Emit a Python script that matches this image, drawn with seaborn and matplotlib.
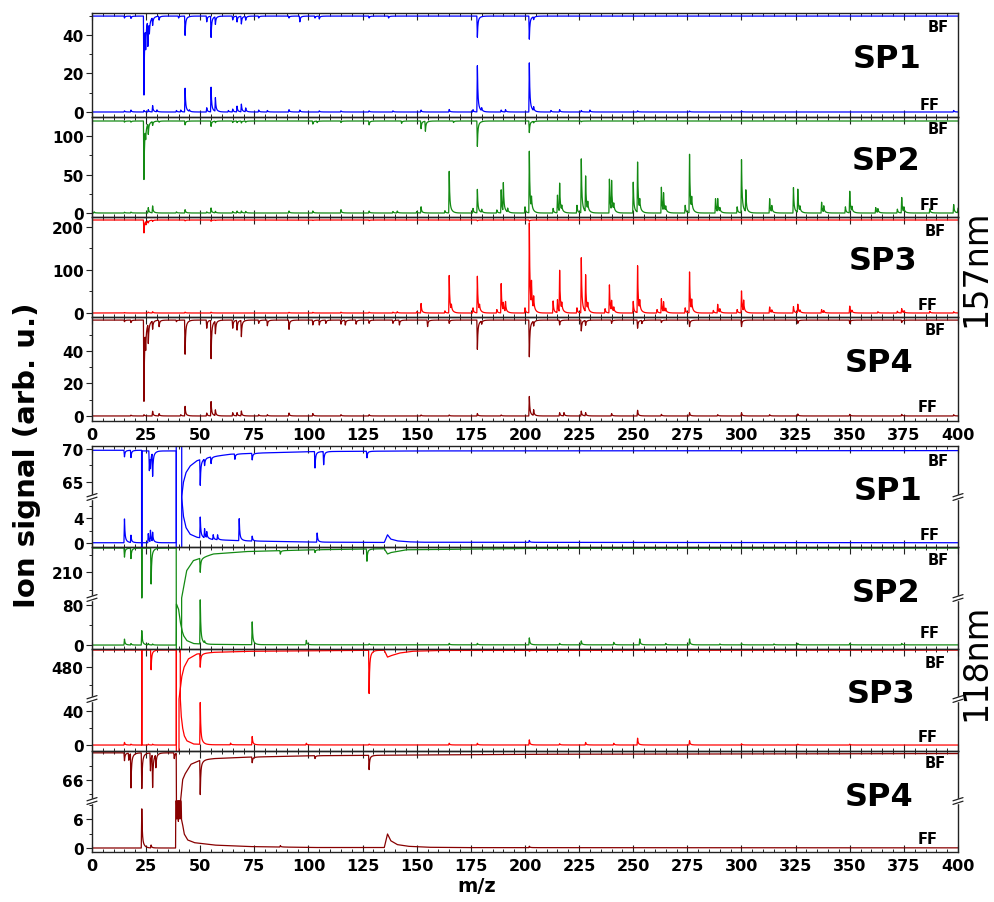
import numpy as np
import pandas as pd
import matplotlib
matplotlib.use("Agg")
import matplotlib.pyplot as plt
import seaborn as sns
from matplotlib.ticker import FixedLocator, MultipleLocator, FuncFormatter
from matplotlib.patches import Rectangle

# ------------------------------------------------------------------ data
SAMPLES = ["SP1", "SP2", "SP3", "SP4"]
WAVELENGTHS = ["157nm", "118nm"]
X_TICKS = list(range(0, 401, 25))

# ---- 157 nm : peak lists (m/z, intensity); BF drawn downward from its baseline
A_BF_BASE = [49.8, 119.5, 216.0, 59.0]

A1_FF = [(15, 0.6), (18, 1.0), (24, 0.8), (26, 1.2), (28, 3.3), (30, 1.0), (39, 0.8), (41, 1.0),
         (43, 12.3), (45, 0.8), (53, 2.2), (55, 12.8), (57, 7.1), (63, 0.8), (65, 1.5), (67, 3.0),
         (69, 4.0), (71, 2.0), (77, 1.0), (81, 0.8), (91, 1.2), (96, 1.0), (105, 0.6), (115, 0.6),
         (128, 0.6), (139, 0.6), (152, 1.0), (165, 1.3), (176, 1.2), (178, 24.0), (180, 1.5),
         (189, 1.0), (191, 1.2), (202, 25.5), (204, 2.0), (212, 0.8), (216, 1.2), (226, 0.8),
         (230, 1.0), (252, 0.6), (276, 0.5), (300, 0.5), (398, 0.8)]
A1_BF = [(15, 1.0), (18, 1.2), (24, 41.0), (24.8, 12.0), (25.8, 13.0), (26.5, 6.0), (28, 4.0),
         (31, 2.0), (40, 1.0), (43, 10.0), (53, 3.0), (55, 11.0), (57, 4.0), (65, 2.0), (67, 3.0),
         (69, 4.0), (71, 2.0), (77, 1.0), (91, 1.0), (96, 3.0), (103, 1.0), (105, 1.5), (128, 1.0),
         (137, 1.0), (178, 11.0), (202, 12.0), (204, 1.5)]

A2_FF = [(1, 1.5), (15, 1.0), (18, 1.2), (26, 7.0), (28, 9.0), (39, 1.5), (43, 4.3), (53, 1.5),
         (55, 6.5), (57, 2.0), (65, 2.0), (67, 2.5), (69, 2.5), (71, 2.0), (91, 2.6), (102, 2.6),
         (115, 4.3), (128, 2.5), (139, 2.0), (141, 2.5), (150, 2.0), (152, 8.0), (163, 3.0),
         (165, 54.0), (176, 6.0), (178, 30.5), (180, 4.0), (187, 4.0), (189, 30.0), (190, 36.5),
         (192, 5.0), (200, 8.0), (202, 80.0), (203, 14.0), (213, 6.0), (215, 23.0), (216, 36.5),
         (217, 6.0), (224, 10.0), (226, 70.0), (228, 46.0), (229, 10.0), (239, 44.0), (240, 38.0),
         (241, 8.0), (250, 40.0), (252, 65.0), (253, 12.0), (263, 33.5), (264, 23.0), (265, 6.0),
         (274, 10.0), (276, 76.0), (277, 14.0), (288, 18.5), (289, 17.0), (290, 5.0), (298, 8.0),
         (300, 69.0), (302, 28.0), (313, 18.5), (314, 8.0), (324, 33.0), (326, 30.0), (327, 6.0),
         (337, 14.0), (338, 8.0), (348, 8.0), (350, 28.0), (351, 6.0), (362, 7.0), (363, 5.0),
         (372, 5.0), (374, 20.0), (375, 6.0), (387, 5.5), (398, 11.0), (400, 6.0)]
A2_BF = [(15, 1.5), (18, 1.5), (24, 76.0), (24.8, 14.0), (26, 14.0), (28, 5.0), (31, 1.5),
         (43, 5.0), (55, 7.0), (57, 2.0), (65, 2.0), (67, 2.0), (69, 2.5), (71, 1.5), (102, 4.0),
         (104, 2.0), (115, 2.0), (128, 5.0), (143, 3.0), (152, 10.0), (154, 13.0), (167, 2.0),
         (178, 33.0), (202, 15.0), (204, 2.0), (226, 1.0), (252, 1.0)]

A3_FF = [(15, 1.0), (26, 2.0), (28, 3.0), (43, 2.0), (55, 2.0), (91, 1.5), (102, 1.5), (115, 2.0),
         (128, 2.0), (139, 2.0), (141, 3.0), (150, 3.0), (152, 22.0), (163, 5.0), (165, 87.0),
         (166, 12.0), (176, 12.0), (178, 85.0), (179, 12.0), (187, 8.0), (189, 68.0), (190, 18.0),
         (191, 23.0), (200, 12.0), (202, 209.0), (203, 55.0), (204, 28.0), (213, 28.0), (215, 30.0),
         (216, 96.0), (217, 15.0), (224, 12.0), (226, 128.0), (228, 85.0), (229, 15.0), (237, 10.0),
         (239, 65.0), (240, 23.0), (241, 10.0), (250, 27.0), (252, 109.0), (253, 20.0), (261, 8.0),
         (263, 33.0), (264, 23.0), (265, 8.0), (274, 12.0), (276, 95.0), (277, 23.0), (287, 6.0),
         (289, 20.0), (290, 8.0), (298, 8.0), (300, 51.0), (301, 25.0), (313, 14.0), (314, 6.0),
         (324, 15.0), (326, 20.0), (327, 5.0), (337, 8.0), (338, 5.0), (350, 16.0), (351, 5.0),
         (363, 3.0), (372, 4.0), (374, 10.0), (375, 4.0), (387, 4.0), (398, 3.0)]
A3_BF = [(24, 30.0), (25, 8.0), (26, 5.0), (28, 3.0), (43, 2.0), (55, 3.0), (57, 1.0),
         (102, 1.0), (128, 1.5), (178, 2.0), (202, 3.0)]

A4_FF = [(18, 0.5), (24, 0.8), (28, 2.9), (31, 1.4), (41, 0.8), (43, 5.9), (53, 1.8), (55, 8.8),
         (57, 3.5), (65, 2.0), (67, 2.0), (69, 3.0), (77, 0.8), (81, 0.8), (91, 1.8), (102, 1.5),
         (115, 0.8), (128, 0.8), (152, 0.6), (165, 0.6), (178, 1.5), (189, 0.6), (202, 12.0),
         (204, 3.5), (216, 2.0), (218, 2.0), (226, 3.0), (228, 2.0), (240, 1.5), (252, 3.5),
         (263, 1.0), (276, 2.0), (289, 0.8), (300, 2.0), (313, 0.8), (326, 1.2), (350, 1.0),
         (374, 1.0), (398, 0.8)]
A4_BF = [(15, 1.0), (18, 1.5), (24, 50.0), (24.8, 12.0), (26, 12.0), (28, 5.0), (31, 4.0),
         (39, 1.0), (43, 21.0), (53, 5.0), (55, 23.6), (57, 7.7), (65, 5.0), (67, 6.0), (69, 10.0),
         (77, 2.0), (81, 3.5), (91, 5.7), (102, 3.0), (105, 3.0), (108, 2.0), (115, 2.5),
         (117, 3.0), (122, 2.5), (128, 2.0), (139, 2.0), (142, 3.0), (155, 4.0), (165, 2.0),
         (178, 18.0), (180, 2.0), (202, 22.6), (204, 3.0), (216, 3.0), (226, 6.7), (228, 3.0),
         (240, 2.0), (252, 5.0), (254, 2.0), (263, 1.5), (276, 4.0), (300, 4.0), (326, 2.0),
         (350, 2.0), (374, 1.5)]

# ---- 118 nm : slowly varying traces read as (m/z, signal) points, plus peak lists
B1_FF_TRACE = [(0, 0), (38.9, 0), (39.0, 300), (41.3, 300), (41.4, 7.5), (42.2, 4.4), (43.4, 2.5),
               (45.3, 1.4), (48.4, 0.9), (56, 0.5), (71.5, 0.3), (102, 0.1), (135, 0.05),
               (136.5, 1.3), (138, 0.6), (141, 0.3), (146, 0.15), (152, 0.08), (400, 0.0)]
B1_BF_TRACE = [(0, 69.8), (22.9, 69.8), (23.0, -300), (23.1, 69.7), (38.9, 69.7), (39.0, -300),
               (41.3, -300), (41.4, 62.7), (42.2, 64.9), (43.4, 66.4), (45.3, 67.4), (48.4, 68.2),
               (53, 68.7), (63.8, 69.2), (79.2, 69.4), (102, 69.6), (150, 69.7), (400, 69.75)]
B1_FF = [(15, 3.9), (18, 1.2), (26, 1.5), (27, 1.9), (28, 1.5), (50, 3.4), (52, 1.5), (53, 1.0),
         (56, 0.8), (58, 0.8), (68, 3.6), (74, 0.8), (104, 1.5), (202, 0.3)]
B1_BF = [(15, 1.0), (18, 1.1), (26.5, 3.0), (27, 2.0), (28, 3.5), (50, 3.9), (52, 1.0), (55, 1.0),
         (66, 0.8), (74, 1.0), (103, 2.5), (107, 2.0), (127, 1.0)]

B2_FF_TRACE = [(0, 0), (38.9, 0), (39.0, 82.8), (40.0, 72), (40.8, 46), (41.6, 29), (42.3, 19),
               (43.8, 9), (46.9, 3), (53, 1.5), (70, 0.8), (100, 0.5), (400, 0.3)]
B2_BF_TRACE = [(0, 217.0), (22.9, 217.0), (23.0, 150), (23.1, 217.0), (38.9, 217.0), (39.0, -500),
               (41.3, -500), (41.4, 202.7), (43.7, 210.5), (46.8, 213.4), (56, 215.3), (71.4, 216.0),
               (102, 216.5), (135, 216.8), (136.5, 215.3), (138, 215.7), (145, 216.5), (200, 216.9),
               (400, 217.0)]
B2_FF = [(15, 12.0), (18, 3.0), (23, 29.0), (26, 3.0), (28, 2.0), (50, 89.0), (52, 4.0),
         (74, 46.0), (99, 9.0), (128, 2.0), (165, 3.0), (178, 3.0), (202, 14.0), (216, 3.0),
         (226, 8.0), (241, 5.0), (253, 12.0), (265, 3.0), (276, 12.0), (290, 2.0), (300, 3.0),
         (315, 2.0), (326, 3.0), (350, 3.0), (374, 3.0)]
B2_BF = [(15, 2.6), (18, 3.0), (27.3, 10.3), (50, 4.0), (87, 1.0), (103, 0.8), (127, 3.5)]

B3_FF_TRACE = [(0, 0), (22.9, 0), (23.0, 600), (23.1, 0), (38.9, 0), (39.0, 600), (40.7, 600),
               (40.8, 54), (41.2, 34.5), (41.8, 20.8), (42.6, 11), (43.8, 5), (46.9, 1.2),
               (56, 0.3), (100, 0.1), (400, 0.0)]
B3_BF_TRACE = [(0, 498.9), (38.9, 498.9), (39.0, -500), (40.1, -500), (40.2, 444.4), (41.4, 468.5),
               (42.5, 479.6), (44.5, 488.9), (48.4, 494.4), (56.1, 496.3), (71.5, 497.4),
               (102, 498.1), (135, 498.6), (136.5, 491.0), (138, 492.5), (142, 495.5),
               (148, 497.5), (160, 498.4), (400, 498.8)]
B3_FF = [(15, 3.1), (18, 1.0), (26, 1.0), (28, 1.0), (50, 49.0), (64, 2.0), (74, 9.8), (99, 2.0),
         (128, 1.0), (165, 2.0), (178, 2.0), (202, 6.0), (216, 1.5), (228, 3.0), (241, 2.0),
         (252, 8.0), (276, 5.0), (300, 1.5), (326, 1.0), (350, 1.0)]
B3_BF = [(27.3, 22.0), (50, 15.0), (128, 48.0), (202, 1.0)]

B4_FF_TRACE = [(0, 0), (38.6, 0), (38.7, 20), (39.2, 6), (39.5, 20), (39.9, 5.5), (40.2, 20),
               (40.6, 6), (40.9, 20), (41.3, 6), (41.8, 5.0), (42.6, 2.9), (44.2, 1.66),
               (47.3, 1.1), (56.5, 0.6), (71.9, 0.3), (102.7, 0.1), (133, 0.08), (135, 0.1),
               (136.5, 2.9), (138, 1.5), (141, 0.7), (146, 0.35), (155, 0.15), (170, 0.08),
               (400, 0.03)]
B4_BF_TRACE = [(0, 67.9), (38.9, 67.9), (39.0, 30), (40.8, 30), (40.9, 64.53), (41.8, 66.0),
               (42.9, 66.4), (45.7, 67.1), (50.3, 67.4), (56.5, 67.5), (71.9, 67.6),
               (102.7, 67.7), (200, 67.8), (400, 67.85)]
B4_FF = [(23, 8.1), (27.3, 0.6), (87, 0.3), (202, 0.3)]
B4_BF = [(15, 0.55), (17, 0.5), (18, 2.4), (23, 2.5), (27, 1.25), (28, 2.3), (29.5, 0.9),
         (38, 0.4), (50, 2.4), (74, 0.4), (103, 0.2), (128, 1.0)]

# y tick values per panel
A_MAJOR = [[0, 20, 40], [0, 50, 100], [0, 100, 200], [0, 20, 40]]
A_MINOR = [[10, 30, 50], [25, 75], [50, 150], [10, 30, 50]]
B_MAJOR = [[0, 4, 65, 70], [0, 80, 210], [0, 40, 480], [0, 6, 66]]
B_MINOR = [[2, 6, 67.5], [40, 205, 215], [20, 460], [3, 9, 65, 67]]

# ------------------------------------------------------------------ style / layout
COLORS = ["#0000ff", "#138a13", "#ff0000", "#880000"]
A_YLIM = [(-2.6, 51.4), (-5.2, 124.7), (-9.3, 223.0), (-3.1, 60.9)]
# broken axes: (lower_min, lower_max, upper_min, upper_max, lower fraction)
B_SEG = [(-0.7, 7.5, 62.7, 70.45, 50 / 101), (-8.0, 95.0, 202.7, 217.3, 51 / 102),
         (-7.0, 54.0, 444.4, 500.0, 52 / 102), (-0.83, 9.73, 64.53, 68.03, 51 / 101)]
W, H = 995, 903
LEFT, RIGHT = 92, 958
A_EDGES = [14, 118, 218, 318, 422]
B_EDGES = [447, 548, 650, 752, 853]

sns.set_style("ticks")
plt.rcParams["font.family"] = ["DejaVu Sans"]
plt.rcParams["font.weight"] = "bold"
plt.rcParams["text.color"] = "black"
plt.rcParams["axes.labelcolor"] = "black"

MZ = np.arange(0, 400.0001, 0.05)


def peak_sum(peaks):
    y = np.zeros_like(MZ)
    for m, h in peaks:
        d = MZ - m
        s = np.where(d < -0.25, 0.0,
                     np.where(d < 0, (d + 0.25) / 0.25,
                              0.72 * np.exp(-d / 0.22) + 0.28 * np.exp(-d / 0.9)))
        y += h * s
    return y


def trace(points):
    p = np.array(points, float)
    return np.interp(MZ, p[:, 0], p[:, 1])


def make_funcs(lo0, lo1, hi0, hi1, f):
    eps = 1e-4

    def fwd(y):
        y = np.asarray(y, float)
        a = (y - lo0) / (lo1 - lo0) * f
        b = f + (y - lo1) / (hi0 - lo1) * eps
        c = f + eps + (y - hi0) / (hi1 - hi0) * (1 - f - eps)
        return np.where(y < lo1, a, np.where(y > hi0, c, b))

    def inv(t):
        t = np.asarray(t, float)
        a = lo0 + t / f * (lo1 - lo0)
        b = lo1 + (t - f) / eps * (hi0 - lo1)
        c = hi0 + (t - f - eps) / (1 - f - eps) * (hi1 - hi0)
        return np.where(t < f, a, np.where(t > f + eps, c, b))

    return fwd, inv


fig = plt.figure(figsize=(W / 100, H / 100), dpi=100)


def add_panel(top, bot):
    return fig.add_axes([LEFT / W, 1 - bot / H, (RIGHT - LEFT) / W, (bot - top) / H])


def style_axes(ax, major, minor, show_xlabels):
    ax.set_xlim(0, 400)
    ax.xaxis.set_major_locator(FixedLocator(X_TICKS))
    ax.xaxis.set_minor_locator(MultipleLocator(5))
    ax.yaxis.set_major_locator(FixedLocator(major))
    ax.yaxis.set_minor_locator(FixedLocator(minor))
    ax.yaxis.set_major_formatter(FuncFormatter(lambda v, p: f"{v:g}"))
    ax.tick_params(axis="x", which="both", direction="in", top=True, bottom=True,
                   labelbottom=show_xlabels, labelsize=11.5, pad=4, colors="#222222",
                   labelcolor="black")
    ax.tick_params(axis="x", which="major", length=5, width=0.8)
    ax.tick_params(axis="x", which="minor", length=2.5, width=0.7)
    ax.tick_params(axis="y", which="both", direction="out", labelsize=11, pad=2,
                   colors="#222222", labelcolor="black")
    ax.tick_params(axis="y", which="major", length=4, width=0.8)
    ax.tick_params(axis="y", which="minor", length=2.5, width=0.7)
    for sp in ax.spines.values():
        sp.set_visible(True)
        sp.set_linewidth(1.0)
        sp.set_color("#222222")
    ax.set_xlabel("")
    ax.set_ylabel("")
    ax.set_facecolor("none")


def draw_lines(ax, ff, bf, color):
    df = pd.DataFrame({"mz": MZ, "FF": ff, "BF": bf})
    sns.lineplot(data=df, x="mz", y="BF", ax=ax, color=color, linewidth=0.9,
                 estimator=None, sort=False)
    sns.lineplot(data=df, x="mz", y="FF", ax=ax, color=color, linewidth=0.9,
                 estimator=None, sort=False)


def break_marks(ax, f, hpx):
    dx = 5 / (RIGHT - LEFT)
    for xa in (0.0, 1.0):
        ax.add_patch(Rectangle((xa - 1.5 / (RIGHT - LEFT), f - 2.2 / hpx), 3 / (RIGHT - LEFT),
                               4.4 / hpx, transform=ax.transAxes, color="white",
                               clip_on=False, zorder=6))
        for o in (-1.8, 1.8):
            ax.plot([xa - dx, xa + dx], [f + (o - 1.6) / hpx, f + (o + 1.6) / hpx],
                    transform=ax.transAxes, color="#222222", lw=0.9, clip_on=False, zorder=7)


A_FF = [A1_FF, A2_FF, A3_FF, A4_FF]
A_BF = [A1_BF, A2_BF, A3_BF, A4_BF]
for i in range(4):
    ax = add_panel(A_EDGES[i], A_EDGES[i + 1])
    ff = peak_sum(A_FF[i])
    bf = A_BF_BASE[i] - peak_sum(A_BF[i])
    draw_lines(ax, ff, bf, COLORS[i])
    ax.set_ylim(*A_YLIM[i])
    style_axes(ax, A_MAJOR[i], A_MINOR[i], i == 3)

B_FF_T = [B1_FF_TRACE, B2_FF_TRACE, B3_FF_TRACE, B4_FF_TRACE]
B_BF_T = [B1_BF_TRACE, B2_BF_TRACE, B3_BF_TRACE, B4_BF_TRACE]
B_FF = [B1_FF, B2_FF, B3_FF, B4_FF]
B_BF = [B1_BF, B2_BF, B3_BF, B4_BF]
for i in range(4):
    top, bot = B_EDGES[i], B_EDGES[i + 1]
    ax = add_panel(top, bot)
    lo0, lo1, hi0, hi1, f = B_SEG[i]
    ax.set_yscale("function", functions=make_funcs(lo0, lo1, hi0, hi1, f))
    ff = trace(B_FF_T[i]) + peak_sum(B_FF[i])
    bf = trace(B_BF_T[i]) - peak_sum(B_BF[i])
    draw_lines(ax, ff, bf, COLORS[i])
    ax.set_ylim(lo0, hi1)
    style_axes(ax, B_MAJOR[i], B_MINOR[i], i == 3)
    break_marks(ax, f, bot - top)


def ftxt(xp, yp, s, **kw):
    fig.text(xp / W, 1 - yp / H, s, ha="center", va="center", color="black", **kw)


A_TXT = [(28, 60, 105), (130, 162, 205), (232, 262, 306), (331, 363, 408)]
B_TXT = [(462, 492, 536), (561, 594, 633), (663, 695, 738), (764, 797, 840)]
SP_X = [[887, 886, 883, 879], [888, 886, 881, 879]]
for g, txt in enumerate([A_TXT, B_TXT]):
    for i, (yb, ys, yf) in enumerate(txt):
        ftxt(938 - (3 if i >= 2 else 0), yb, "BF", fontsize=10.5, fontweight="bold")
        ftxt(930 - (2 if i >= 2 else 0), yf, "FF", fontsize=10.5, fontweight="bold")
        ftxt(SP_X[g][i], ys, SAMPLES[i], fontsize=23, fontweight="bold")

ftxt(976, 268, WAVELENGTHS[0], fontsize=24, fontweight="normal", rotation=90)
ftxt(976, 662, WAVELENGTHS[1], fontsize=24, fontweight="normal", rotation=90)
ftxt(27, 455, "Ion signal (arb. u.)", fontsize=21, fontweight="bold", rotation=90)
ftxt(477, 887, "m/z", fontsize=14, fontweight="bold")

fig.savefig("out.png", dpi=100)
